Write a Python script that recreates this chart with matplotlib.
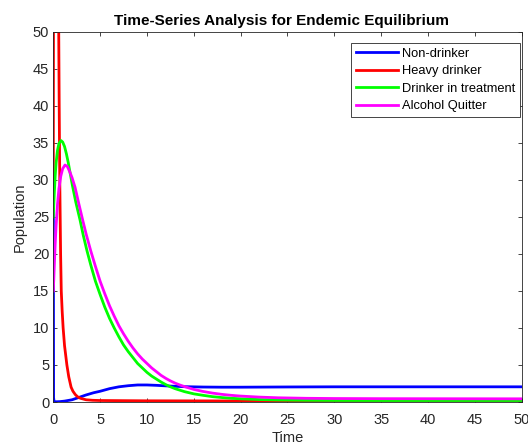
import matplotlib
matplotlib.use("Agg")
import matplotlib.pyplot as plt

# ---- data ----
t_non = [0, 0.03, 0.08, 0.3, 0.7, 1.2, 2, 2.7, 3.5, 4.3, 5, 6, 7, 8, 9, 10, 11, 12, 13, 14, 16, 18, 20, 25, 30, 40, 50]
y_non = [30, 0.6, 0.05, 0.03, 0.05, 0.12, 0.3, 0.6, 0.95, 1.25, 1.45, 1.8, 2.05, 2.2, 2.3, 2.3, 2.25, 2.18, 2.12, 2.07, 2.02, 2.0, 2.0, 2.03, 2.05, 2.05, 2.05]

t_heavy = [0, 0.02, 0.1, 0.25, 0.4, 0.52, 0.58, 0.63, 0.69, 0.78, 0.85, 0.95, 1.05, 1.2, 1.45, 1.65, 1.9, 2.1, 2.35, 2.6, 2.9, 3.5, 4.2, 5, 10, 20, 30, 50]
y_heavy = [30, 50, 62, 65, 60, 54, 50, 40, 30, 20, 15, 12.2, 10, 7.6, 5, 3.4, 2, 1.45, 1, 0.7, 0.5, 0.3, 0.23, 0.2, 0.16, 0.14, 0.13, 0.12]

t_treat = [0, 0.05, 0.1, 0.2, 0.3, 0.45, 0.6, 0.82, 1.0, 1.2, 1.4, 1.6, 1.8, 2.03, 2.4, 2.85, 3.2, 3.6, 4.0, 4.5, 5.0, 5.5, 6.0, 6.5, 7.0, 7.5, 8.0, 8.5, 9.0, 9.5, 10, 10.5, 11, 11.5, 12, 12.5, 13, 14, 15, 16, 17, 18, 19, 20, 22, 24, 27, 30, 35, 50]
y_treat = [25, 26.6, 28, 30.5, 32.3, 34, 34.9, 35.3, 35.1, 34.5, 33.5, 32.3, 30.9, 29.3, 27.0, 24.6, 22.5, 20.4, 18.5, 16.3, 14.5, 12.8, 11.3, 10.0, 8.8, 7.7, 6.8, 6.0, 5.2, 4.6, 4.0, 3.5, 3.1, 2.7, 2.35, 2.05, 1.8, 1.4, 1.1, 0.9, 0.72, 0.6, 0.5, 0.43, 0.33, 0.27, 0.23, 0.21, 0.2, 0.2]

t_quit = [0, 0.05, 0.1, 0.2, 0.3, 0.45, 0.6, 0.8, 1.0, 1.25, 1.5, 1.75, 2.0, 2.32, 2.7, 3.13, 3.5, 4.0, 4.5, 5.0, 5.5, 6.0, 6.5, 7.0, 7.5, 8.0, 8.5, 9.0, 9.5, 10, 10.5, 11, 11.5, 12, 12.5, 13, 13.5, 14, 15, 16, 17, 18, 19, 20, 22, 24, 27, 30, 35, 50]
y_quit = [15, 16.5, 18.2, 21.3, 23.8, 26.7, 28.8, 30.5, 31.5, 32.0, 31.8, 31.1, 30.3, 29.0, 26.9, 24.6, 22.7, 20.4, 18.3, 16.3, 14.6, 13.0, 11.6, 10.3, 9.2, 8.2, 7.3, 6.5, 5.8, 5.2, 4.6, 4.1, 3.6, 3.2, 2.85, 2.55, 2.3, 2.08, 1.7, 1.42, 1.2, 1.03, 0.9, 0.8, 0.66, 0.57, 0.5, 0.47, 0.45, 0.43]

labels = ["Non-drinker", "Heavy drinker", "Drinker in treatment", "Alcohol Quitter"]
colors = ["#0000ff", "#ff0000", "#00ff00", "#ff00ff"]
xticks = list(range(0, 51, 5))
yticks = list(range(0, 51, 5))

plt.rcParams['font.family'] = ['Liberation Sans', 'DejaVu Sans']

fig = plt.figure(figsize=(5.28, 4.44), dpi=100)
ax = fig.add_axes([53.3 / 528, 42 / 444, 468.4 / 528, 370.3 / 444])

series = [(t_non, y_non), (t_heavy, y_heavy), (t_treat, y_treat), (t_quit, y_quit)]
for (t, y), lab, c in zip(series, labels, colors):
    ax.plot(t, y, color=c, lw=2.0, label=lab, solid_joinstyle='round')

ax.set_xlim(0, 50)
ax.set_ylim(0, 50)
ax.set_xticks(xticks)
ax.set_yticks(yticks)
ax.tick_params(direction='in', length=3, width=0.6, top=True, right=True,
               labelsize=10.5, colors='#262626')
ax.tick_params(axis='x', pad=8)
ax.tick_params(axis='y', pad=3)
for sp in ax.spines.values():
    sp.set_linewidth(0.6)
    sp.set_color('#262626')

ax.set_title("Time-Series Analysis for Endemic Equilibrium", fontsize=11,
             fontweight='bold', color='#000000', pad=5, x=0.487)
ax.set_xlabel("Time", fontsize=10.5, color='#262626', labelpad=3)
ax.set_ylabel("Population", fontsize=10.5, color='#262626', labelpad=4)

leg = ax.legend(loc='upper right', bbox_to_anchor=(0.9964, 0.9687), borderaxespad=0,
                fontsize=9.3, handlelength=3.3, handletextpad=0.3, labelspacing=0.42,
                borderpad=0.35, fancybox=False, framealpha=1, edgecolor='#262626')
leg.get_frame().set_linewidth(0.6)
for line in leg.get_lines():
    line.set_linewidth(2.0)

fig.savefig("out.png", dpi=100)
